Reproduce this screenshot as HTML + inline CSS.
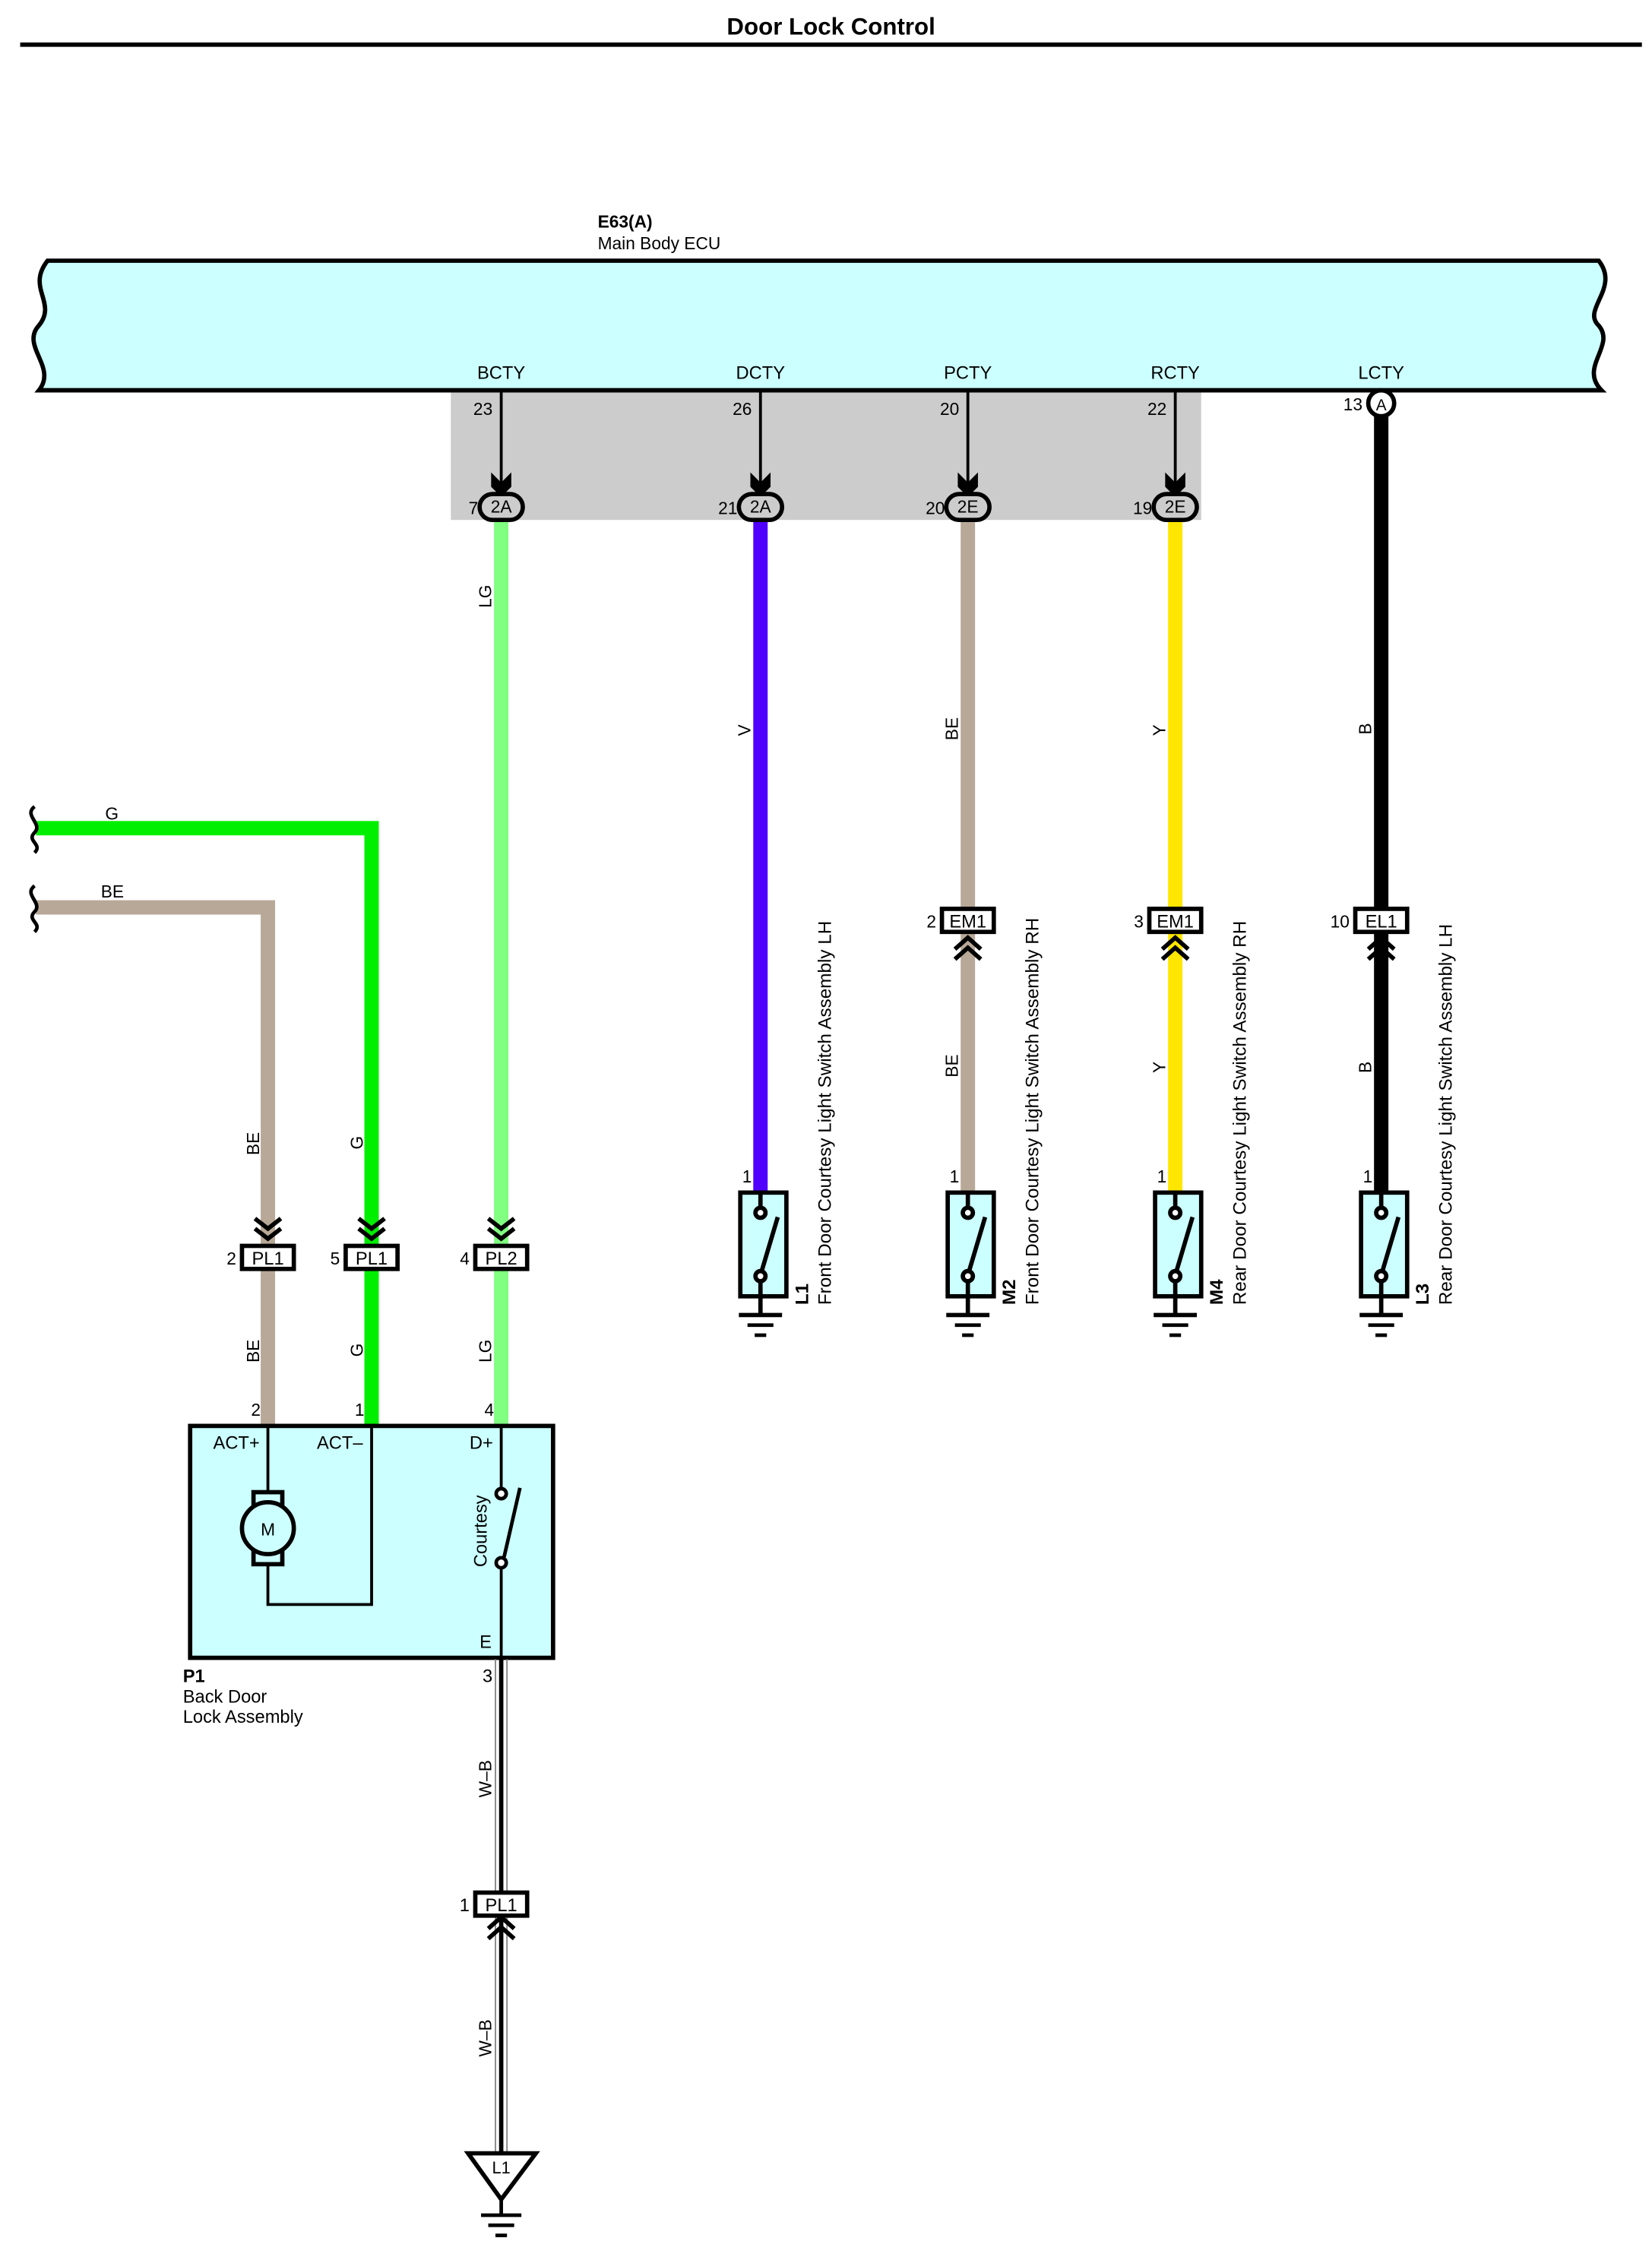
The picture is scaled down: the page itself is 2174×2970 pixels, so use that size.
<!DOCTYPE html>
<html><head><meta charset="utf-8"><style>
html,body{margin:0;padding:0;background:#fff;}
svg{display:block;}
text{font-family:"Liberation Sans",Arial,sans-serif;fill:#000;}
</style></head><body>
<svg width="2174" height="2970" viewBox="0 0 1147 1567" xmlns="http://www.w3.org/2000/svg">
<rect width="1147" height="1567" fill="#fff"/>
<text x="577" y="24" font-size="16.5" font-weight="bold" text-anchor="middle">Door Lock Control</text>
<line x1="14" y1="31" x2="1140" y2="31" stroke="#000" stroke-width="3"/>

<text x="415" y="158" font-size="12" font-weight="bold">E63(A)</text>
<text x="415" y="173" font-size="12">Main Body ECU</text>

<path d="M33,181 L1110,181 C1125,200 1098,215 1110,226 C1122,240 1096,255 1112,271 L27,271 C40,255 14,240 27,226 C40,210 18,200 33,181 Z" fill="#ccffff" stroke="#000" stroke-width="3"/>
<rect x="313" y="272" width="521" height="89" fill="#cccccc"/>
<line x1="27" y1="271" x2="1112" y2="271" stroke="#000" stroke-width="3"/>

<g font-size="12.5" text-anchor="middle">
<text x="348" y="263">BCTY</text><text x="528" y="263">DCTY</text><text x="672" y="263">PCTY</text><text x="816" y="263">RCTY</text><text x="959" y="263">LCTY</text>
</g>
<g font-size="12" text-anchor="end">
<text x="342" y="288">23</text><text x="522" y="288">26</text><text x="666" y="288">20</text><text x="810" y="288">22</text><text x="946" y="285">13</text>
<text x="332" y="357">7</text><text x="512" y="357">21</text><text x="656" y="357">20</text><text x="800" y="357">19</text>
</g>

<line x1="348" y1="361" x2="348" y2="990" stroke="#80ff80" stroke-width="10"/>
<line x1="528" y1="361" x2="528" y2="828" stroke="#5000ff" stroke-width="10"/>
<line x1="672" y1="361" x2="672" y2="828" stroke="#b8a898" stroke-width="10"/>
<line x1="816" y1="361" x2="816" y2="828" stroke="#ffe600" stroke-width="10"/>
<line x1="959" y1="289" x2="959" y2="828" stroke="#000" stroke-width="10"/>
<circle cx="959" cy="280" r="9" fill="#fff" stroke="#000" stroke-width="3"/>
<text x="959" y="285" font-size="11" text-anchor="middle">A</text>

<g>
<line x1="348" y1="271" x2="348" y2="335" stroke="#000" stroke-width="2"/>
<polygon points="341,328 348,335 355,328 355,338 348,345 341,338" fill="#000"/>
<line x1="528" y1="271" x2="528" y2="335" stroke="#000" stroke-width="2"/>
<polygon points="521,328 528,335 535,328 535,338 528,345 521,338" fill="#000"/>
<line x1="672" y1="271" x2="672" y2="335" stroke="#000" stroke-width="2"/>
<polygon points="665,328 672,335 679,328 679,338 672,345 665,338" fill="#000"/>
<line x1="816" y1="271" x2="816" y2="335" stroke="#000" stroke-width="2"/>
<polygon points="809,328 816,335 823,328 823,338 816,345 809,338" fill="#000"/>
</g>
<g stroke="#000" stroke-width="3" fill="#cccccc">
<rect x="333" y="343" width="30" height="18" rx="9"/>
<rect x="513" y="343" width="30" height="18" rx="9"/>
<rect x="657" y="343" width="30" height="18" rx="9"/>
<rect x="801" y="343" width="30" height="18" rx="9"/>
</g>
<g font-size="12" text-anchor="middle">
<text x="348" y="356">2A</text><text x="528" y="356">2A</text><text x="672" y="356">2E</text><text x="816" y="356">2E</text>
</g>

<g font-size="12">
<text transform="translate(341,422) rotate(-90)">LG</text>
<text transform="translate(521,511) rotate(-90)">V</text>
<text transform="translate(665,514) rotate(-90)">BE</text>
<text transform="translate(809,511) rotate(-90)">Y</text>
<text transform="translate(952,510) rotate(-90)">B</text>
<text transform="translate(665,748) rotate(-90)">BE</text>
<text transform="translate(809,745) rotate(-90)">Y</text>
<text transform="translate(952,745) rotate(-90)">B</text>
<text transform="translate(180,802) rotate(-90)">BE</text>
<text transform="translate(252,798) rotate(-90)">G</text>
<text transform="translate(180,946) rotate(-90)">BE</text>
<text transform="translate(252,942) rotate(-90)">G</text>
<text transform="translate(341,946) rotate(-90)">LG</text>
<text transform="translate(341,1248) rotate(-90)">W–B</text>
<text transform="translate(341,1428) rotate(-90)">W–B</text>
</g>

<g stroke="#000" stroke-width="3" fill="none">
<polyline points="663,659 672,651 681,659"/><polyline points="663,666 672,658 681,666"/>
<polyline points="807,659 816,651 825,659"/><polyline points="807,666 816,658 825,666"/>
<polyline points="950,659 959,651 968,659"/><polyline points="950,666 959,658 968,666"/>
</g>
<g stroke="#000" stroke-width="3" fill="#fff">
<rect x="654" y="631" width="36" height="16"/>
<rect x="798" y="631" width="36" height="16"/>
<rect x="941" y="631" width="36" height="16"/>
</g>
<g font-size="12.5" text-anchor="middle">
<text x="672" y="644">EM1</text><text x="816" y="644">EM1</text><text x="959" y="644">EL1</text>
</g>
<g font-size="12" text-anchor="end">
<text x="650" y="644">2</text><text x="794" y="644">3</text><text x="937" y="644">10</text>
<text x="522" y="821">1</text><text x="666" y="821">1</text><text x="810" y="821">1</text><text x="953" y="821">1</text>
</g>

<g stroke="#000" stroke-width="3">
<g id="sw1">
<rect x="514" y="828" width="32" height="72" fill="#ccffff"/>
<line x1="528" y1="828" x2="528" y2="838"/>
<circle cx="528" cy="842" r="3.5" fill="#fff"/>
<circle cx="528" cy="886" r="3.5" fill="#fff"/>
<line x1="529" y1="882" x2="540" y2="845"/>
<line x1="528" y1="889" x2="528" y2="913"/>
<line x1="513" y1="913" x2="543" y2="913"/>
<line x1="519" y1="920" x2="537" y2="920" stroke-width="2.5"/>
<line x1="524" y1="927" x2="532" y2="927" stroke-width="2.5"/>
</g>
<use href="#sw1" transform="translate(144,0)"/>
<use href="#sw1" transform="translate(288,0)"/>
<use href="#sw1" transform="translate(431,0)"/>
</g>
<g font-size="12.8">
<text transform="translate(561,906) rotate(-90)" font-weight="bold">L1</text>
<text transform="translate(577,906) rotate(-90)">Front Door Courtesy Light Switch Assembly LH</text>
<text transform="translate(705,906) rotate(-90)" font-weight="bold">M2</text>
<text transform="translate(721,906) rotate(-90)">Front Door Courtesy Light Switch Assembly RH</text>
<text transform="translate(849,906) rotate(-90)" font-weight="bold">M4</text>
<text transform="translate(865,906) rotate(-90)">Rear Door Courtesy Light Switch Assembly RH</text>
<text transform="translate(992,906) rotate(-90)" font-weight="bold">L3</text>
<text transform="translate(1008,906) rotate(-90)">Rear Door Courtesy Light Switch Assembly LH</text>
</g>

<polyline points="25,575 258,575 258,990" fill="none" stroke="#00ee00" stroke-width="10"/>
<polyline points="25,630 186,630 186,990" fill="none" stroke="#b8a898" stroke-width="10"/>
<g fill="none" stroke="#000" stroke-width="2.5">
<path d="M24,560 C16,566 30,572 24,578 C18,584 30,586 24,592"/>
<path d="M24,615 C16,621 30,627 24,633 C18,639 30,641 24,647"/>
</g>
<g font-size="12">
<text x="73" y="569">G</text>
<text x="70" y="623">BE</text>
</g>

<g stroke="#000" stroke-width="3" fill="none">
<polyline points="177,846 186,853 195,846"/><polyline points="177,853 186,860 195,853"/>
<polyline points="249,846 258,853 267,846"/><polyline points="249,853 258,860 267,853"/>
<polyline points="339,846 348,853 357,846"/><polyline points="339,853 348,860 357,853"/>
</g>
<g stroke="#000" stroke-width="3" fill="#fff">
<rect x="168" y="865" width="36" height="16"/>
<rect x="240" y="865" width="36" height="16"/>
<rect x="330" y="865" width="36" height="16"/>
</g>
<g font-size="12.5" text-anchor="middle">
<text x="186" y="878">PL1</text><text x="258" y="878">PL1</text><text x="348" y="878">PL2</text>
</g>
<g font-size="12" text-anchor="end">
<text x="164" y="878">2</text><text x="236" y="878">5</text><text x="326" y="878">4</text>
<text x="181" y="983">2</text><text x="253" y="983">1</text><text x="343" y="983">4</text>
</g>

<rect x="132" y="990" width="252" height="161" fill="#ccffff" stroke="#000" stroke-width="3"/>
<g fill="none" stroke="#000" stroke-width="2">
<polyline points="186,990 186,1114 258,1114 258,990"/>
</g>
<rect x="176" y="1036" width="20" height="50" fill="#ccffff" stroke="#000" stroke-width="3"/>
<circle cx="186" cy="1061" r="18" fill="#ccffff" stroke="#000" stroke-width="3"/>
<text x="186" y="1066" font-size="12" text-anchor="middle">M</text>
<g stroke="#000" stroke-width="2">
<line x1="348" y1="990" x2="348" y2="1033"/>
<line x1="348" y1="1089" x2="348" y2="1151"/>
</g>
<g stroke="#000" stroke-width="2.5">
<circle cx="348" cy="1037" r="3.5" fill="#fff"/>
<circle cx="348" cy="1085" r="3.5" fill="#fff"/>
<line x1="350" y1="1081" x2="361" y2="1033"/>
</g>
<g font-size="12.5">
<text x="148" y="1006">ACT+</text>
<text x="220" y="1006">ACT–</text>
<text x="326" y="1006">D+</text>
<text x="333" y="1144">E</text>
<text transform="translate(338,1088) rotate(-90)">Courtesy</text>
<text x="127" y="1168" font-weight="bold">P1</text>
<text x="127" y="1182">Back Door</text>
<text x="127" y="1196">Lock Assembly</text>
<text x="342" y="1168" text-anchor="end">3</text>
<text x="326" y="1327" text-anchor="end">1</text>
</g>

<g stroke-width="1">
<line x1="344" y1="1152" x2="344" y2="1495" stroke="#888"/>
<line x1="352" y1="1152" x2="352" y2="1495" stroke="#888"/>
</g>
<line x1="348" y1="1152" x2="348" y2="1495" stroke="#000" stroke-width="3"/>
<g stroke="#000" stroke-width="3" fill="none">
<polyline points="339,1339 348,1331 357,1339"/><polyline points="339,1346 348,1338 357,1346"/>
</g>
<rect x="330" y="1314" width="36" height="16" fill="#fff" stroke="#000" stroke-width="3"/>
<text x="348" y="1327" font-size="12.5" text-anchor="middle">PL1</text>

<polygon points="325,1495 372,1495 348,1527" fill="#fff" stroke="#000" stroke-width="3"/>
<text x="348" y="1509" font-size="11.5" text-anchor="middle">L1</text>
<g stroke="#000" stroke-width="2.5">
<line x1="348" y1="1527" x2="348" y2="1538"/>
<line x1="334" y1="1538" x2="362" y2="1538"/>
<line x1="339" y1="1545" x2="357" y2="1545"/>
<line x1="344" y1="1552" x2="352" y2="1552"/>
</g>
</svg>
</body></html>
